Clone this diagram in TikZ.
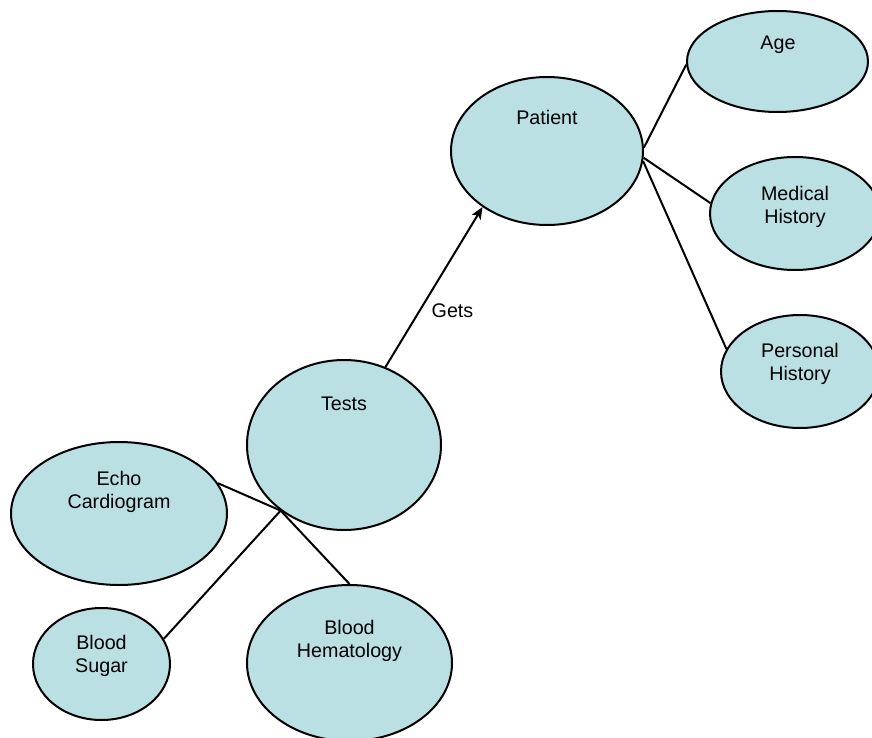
\documentclass[tikz,border=0pt]{standalone}
\usepackage{fontspec}
\setmainfont{Liberation Sans}
\usetikzlibrary{shapes.geometric,arrows.meta}
\definecolor{bubble}{RGB}{187,224,227}
\begin{document}
\begin{tikzpicture}[x=1pt,y=-1pt,
  bub/.style={ellipse,draw=black,fill=bubble,line width=2pt,inner sep=0pt},
  lbl/.style={font=\fontsize{19.7}{23}\selectfont,align=center,anchor=base,inner sep=0pt},
  conn/.style={line width=2pt,draw=black}]
\useasboundingbox (0,0) rectangle (872,738);
\clip (0,0) rectangle (872,738);
% bubbles
\node[bub,minimum width=192pt,minimum height=148pt] (patient) at (547,151) {};
\node[bub,minimum width=181pt,minimum height=101pt] (age) at (777.5,61.5) {};
\node[bub,minimum width=170pt,minimum height=113pt] (medical) at (795,213.5) {};
\node[bub,minimum width=158pt,minimum height=113pt] (personal) at (800,371.5) {};
\node[bub,minimum width=194pt,minimum height=170pt] (tests) at (344,445) {};
\node[bub,minimum width=216pt,minimum height=143pt] (echo) at (119,513.5) {};
\node[bub,minimum width=137pt,minimum height=112pt] (sugar) at (101.5,664) {};
\node[bub,minimum width=205pt,minimum height=156pt] (hema) at (349.5,663) {};
% texts (anchor base = baseline of last line)
\node[lbl] (tpatient) at (547,125) {Patient};
\node[lbl] (tage) at (778,50) {Age};
\node[lbl] (tmedical) at (795,223) {Medical\\History};
\node[lbl] (tpersonal) at (800,380) {Personal\\History};
\node[lbl] (ttests) at (344,410) {Tests};
\node[lbl] (techo) at (119,508) {Echo\\Cardiogram};
\node[lbl] (tsugar) at (101.5,672) {Blood\\Sugar};
\node[lbl] (thema) at (349.5,657) {Blood\\Hematology};
\node[lbl] (gets) at (452.5,317) {Gets};
% connectors
\draw[conn,-{Stealth[length=12pt,width=10pt,inset=3pt]}] (tests.62) -- (patient.221.6);
\draw[conn] (patient.2) -- (age.182);
\draw[conn] (patient.-4) -- (medical.173);
\draw[conn] (patient.-6) -- (personal.163);
\coordinate (hub) at (tests.226);
\draw[conn] (hub) -- (echo.17);
\draw[conn] (hub) -- (sugar.22);
\draw[conn] (hub) -- (hema.north);
\end{tikzpicture}
\end{document}
